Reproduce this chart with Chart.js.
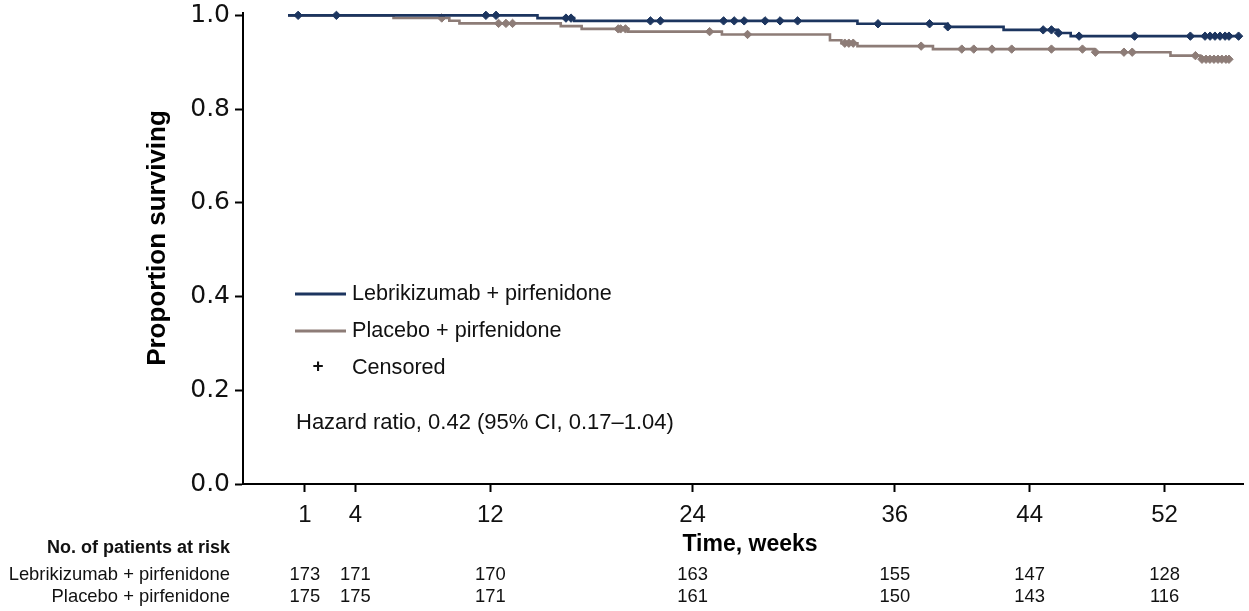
<!DOCTYPE html>
<html><head><meta charset="utf-8">
<script src="https://cdn.jsdelivr.net/npm/chart.js@4.4.1/dist/chart.umd.min.js"></script>
<style>html,body{margin:0;padding:0;background:#fff;overflow:hidden;} canvas{display:block;}</style>
</head><body>
<canvas id="c" width="1249" height="611"></canvas>
<script>
// ---- data ----
const seriesNames = ['Lebrikizumab + pirfenidone', 'Placebo + pirfenidone'];
const lebEventWeeks = [0, 14.8, 16.97, 33.78, 39.14, 42.45, 45.65, 46.43, 56.47];
const lebSurvival   = [1.0, 0.9941, 0.9882, 0.9820, 0.9755, 0.9690, 0.9623, 0.9556, 0.9556];
const lebCensorWeeks = [0.60, 2.87, 11.74, 12.34, 16.49, 16.79, 21.50, 22.09, 25.84, 26.47, 27.06, 28.30, 29.19, 30.23, 35.00, 38.06, 39.14, 44.80, 45.29, 45.71, 46.93, 50.22, 53.53, 54.40, 54.70, 54.99, 55.29, 55.59, 55.82, 56.39];
const plaEventWeeks = [0, 6.26, 9.57, 10.17, 16.18, 17.42, 20.18, 25.74, 32.15, 32.83, 33.78, 38.26, 47.82, 52.35, 54.12, 55.82];
const plaSurvival   = [1.0, 0.9943, 0.9885, 0.9828, 0.9769, 0.9711, 0.9652, 0.9592, 0.9468, 0.9406, 0.9343, 0.9280, 0.9214, 0.9140, 0.9063, 0.9063];
const plaCensorWeeks = [9.12, 12.49, 12.93, 13.32, 19.59, 19.73, 20.02, 25.01, 27.26, 33.03, 33.27, 33.53, 37.56, 39.97, 40.68, 41.76, 42.93, 45.29, 47.13, 47.90, 49.59, 50.08, 53.83, 54.22, 54.46, 54.69, 54.93, 55.17, 55.40, 55.64, 55.82];
const tickWeeks = [1, 4, 12, 24, 36, 44, 52];
const yTickValues = [0, 0.2, 0.4, 0.6, 0.8, 1.0];
const lebAtRisk = [173, 171, 170, 163, 155, 147, 128];
const plaAtRisk = [175, 175, 171, 161, 150, 143, 116];
const hazardText = 'Hazard ratio, 0.42 (95% CI, 0.17\u20131.04)';

// ---- styles ----
const BLUE = '#1c355f';
const BROWN = '#8d7c77';
const FONT = '"Liberation Sans", Arial, Helvetica, sans-serif';

function levelAt(weeks, surv, t) {
  let s = surv[0];
  for (let i = 0; i < weeks.length; i++) if (weeks[i] <= t) s = surv[i];
  return s;
}
const toPts = (w, s) => w.map((x, i) => ({x: x, y: s[i]}));
const censorPts = (cw, w, s) => cw.map(t => ({x: t, y: levelAt(w, s, t)}));

const overlay = {
  id: 'overlay',
  afterDraw(chart) {
    const ctx = chart.ctx;
    const xs = chart.scales.x;
    ctx.save();
    ctx.fillStyle = '#000';
    ctx.textBaseline = 'middle';
    // y title
    ctx.save();
    ctx.translate(158, 238);
    ctx.rotate(-Math.PI / 2);
    ctx.textAlign = 'center';
    ctx.font = 'bold 26px ' + FONT;
    ctx.fillText('Proportion surviving', 0, 0);
    ctx.restore();
    // x title
    ctx.textAlign = 'center';
    ctx.font = 'bold 23px ' + FONT;
    ctx.fillText('Time, weeks', 750, 545);
    // legend
    ctx.lineWidth = 3;
    [[BLUE, 294, seriesNames[0]], [BROWN, 331, seriesNames[1]]].forEach(([c, y, t]) => {
      ctx.strokeStyle = c;
      ctx.beginPath(); ctx.moveTo(295, y); ctx.lineTo(346, y); ctx.stroke();
      ctx.textAlign = 'left';
      ctx.font = '21.6px ' + FONT;
      ctx.fillStyle = '#111';
      ctx.fillText(t, 352, y);
    });
    ctx.textAlign = 'center';
    ctx.font = 'bold 19px ' + FONT;
    ctx.fillText('+', 318, 367);
    ctx.textAlign = 'left';
    ctx.font = '21.6px ' + FONT;
    ctx.fillText('Censored', 352, 368);
    ctx.font = '22px ' + FONT;
    ctx.fillText(hazardText, 296, 423);
    // risk table
    ctx.textAlign = 'right';
    ctx.font = 'bold 18px ' + FONT;
    ctx.fillText('No. of patients at risk', 230, 548);
    ctx.font = '18.4px ' + FONT;
    ctx.fillText(seriesNames[0], 230, 575);
    ctx.fillText(seriesNames[1], 230, 597);
    ctx.textAlign = 'center';
    tickWeeks.forEach((w, i) => {
      const px = xs.getPixelForValue(w);
      ctx.fillText(String(lebAtRisk[i]), px, 575);
      ctx.fillText(String(plaAtRisk[i]), px, 597);
    });
    ctx.restore();
  }
};

new Chart(document.getElementById('c'), {
  type: 'line',
  data: {
    datasets: [
      {type: 'scatter', data: censorPts(lebCensorWeeks, lebEventWeeks, lebSurvival), pointStyle: 'rectRot', pointRadius: 4.2, backgroundColor: BLUE, borderColor: BLUE, borderWidth: 1, clip: false},
      {type: 'line', data: toPts(lebEventWeeks, lebSurvival), stepped: true, borderColor: BLUE, borderWidth: 2.6, pointRadius: 0, fill: false, clip: false},
      {type: 'scatter', data: censorPts(plaCensorWeeks, plaEventWeeks, plaSurvival), pointStyle: 'rectRot', pointRadius: 4.2, backgroundColor: BROWN, borderColor: BROWN, borderWidth: 1, clip: false},
      {type: 'line', data: toPts(plaEventWeeks, plaSurvival), stepped: true, borderColor: BROWN, borderWidth: 2.6, pointRadius: 0, fill: false, clip: false}
    ]
  },
  options: {
    responsive: false,
    devicePixelRatio: 1,
    animation: false,
    events: [],
    layout: {padding: {left: 0, top: 13, right: 2, bottom: 0}},
    plugins: {legend: {display: false}, tooltip: {enabled: false}},
    scales: {
      x: {
        type: 'linear', min: -2.67, max: 56.7,
        afterBuildTicks: s => { s.ticks = tickWeeks.map(v => ({value: v})); },
        afterFit: s => { s.height = 127; s.paddingLeft = 0; s.paddingRight = 0; },
        grid: {drawOnChartArea: false, drawTicks: true, tickLength: 8, tickWidth: 2, tickColor: '#000'},
        border: {display: true, color: '#000', width: 2},
        ticks: {color: '#111', font: {family: FONT, size: 24}, padding: 9, maxRotation: 0, autoSkip: false, callback: v => String(v)}
      },
      y: {
        type: 'linear', min: 0, max: 1.005,
        afterBuildTicks: s => { s.ticks = yTickValues.map(v => ({value: v})); },
        afterFit: s => { s.width = 243; s.paddingTop = 0; s.paddingBottom = 0; },
        grid: {drawOnChartArea: false, drawTicks: true, tickLength: 8, tickWidth: 2, tickColor: '#000'},
        border: {display: true, color: '#000', width: 2},
        ticks: {color: '#111', font: {family: '"DejaVu Sans", ' + FONT, size: 25}, padding: 5, callback: v => Number(v).toFixed(1)}
      }
    }
  },
  plugins: [overlay]
});
</script>
</body></html>
